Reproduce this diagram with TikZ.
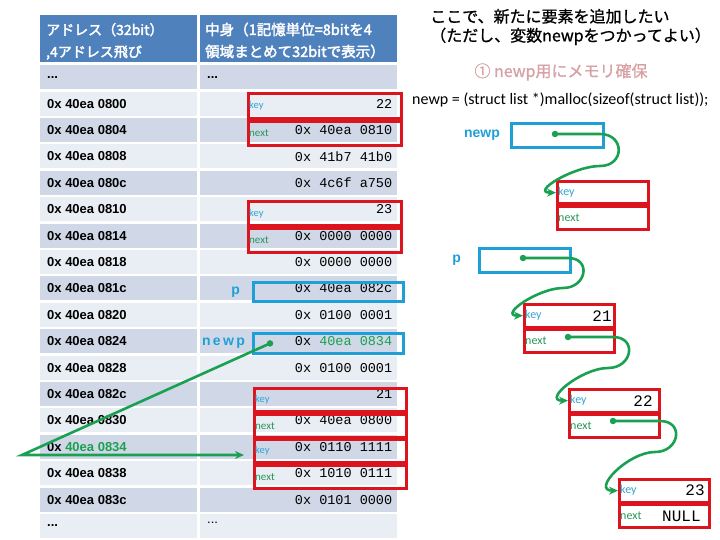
\documentclass[tikz,border=0pt]{standalone}
\usepackage{fontspec}
\usepackage{xcolor}
\usepackage{tikz}
\usetikzlibrary{arrows.meta,positioning,calc}
\newfontfamily\jpfont{Noto Sans CJK JP}
\newfontfamily\jpbold{Noto Sans CJK JP}[FakeBold=2.5]
\newfontfamily\jpmed{Noto Sans CJK JP}[FakeBold=1]
\newfontfamily\addrfont{Liberation Sans}
\newfontfamily\valfont{Liberation Mono}
\newfontfamily\codefont{Carlito}
\definecolor{hdblue}{RGB}{79,129,189}
\definecolor{rowdark}{RGB}{208,216,232}
\definecolor{rowlight}{RGB}{233,237,244}
\definecolor{boxred}{RGB}{220,20,30}
\definecolor{boxblue}{RGB}{30,160,215}
\definecolor{linkgreen}{RGB}{25,160,80}
\definecolor{keycyan}{RGB}{50,165,210}
\definecolor{nextgreen}{RGB}{40,150,90}
\definecolor{steppink}{RGB}{215,160,165}
\tikzset{
  cell/.style={rectangle, fill=#1, minimum height=24pt, inner sep=0pt, anchor=north west},
  hdtext/.style={anchor=base west, inner sep=0pt, text=white, font=\jpbold\fontsize{#1}{#1}\selectfont},
  addr/.style={inner sep=0pt, font=\addrfont\bfseries\fontsize{13}{15}\selectfont},
  val/.style={inner sep=0pt, font=\valfont\fontsize{13.5}{15}\selectfont},
  bigval/.style={inner sep=0pt, font=\valfont\fontsize{16}{18}\selectfont},
  field/.style={rectangle, draw=boxred, line width=2.8pt, inner sep=0pt, anchor=north west},
  ptr/.style={rectangle, draw=boxblue, line width=2.8pt, inner sep=0pt, anchor=north west},
  keylbl/.style={inner sep=2pt, text=keycyan, font=\codefont\fontsize{#1}{#1}\selectfont},
  nextlbl/.style={inner sep=2pt, text=nextgreen, font=\codefont\fontsize{#1}{#1}\selectfont},
  varlbl/.style={inner sep=0pt, text=boxblue, font=\addrfont\bfseries\fontsize{14}{16}\selectfont},
  dot/.style={circle, fill=linkgreen, inner sep=0pt, minimum size=6.5pt},
  link/.style={draw=linkgreen, line width=2.6pt, -{Stealth[length=9pt,width=8pt]}}
}
\begin{document}
\begin{tikzpicture}[x=1pt,y=-1pt]
\useasboundingbox (0,0) rectangle (720,540);
% header
\node[cell=hdblue, minimum width=157pt, minimum height=47pt] (h1) at (40,15) {};
\node[cell=hdblue, minimum width=197pt, minimum height=47pt] (h2) at (200,15) {};
\node[hdtext=14] (h1a) at (46,35) {アドレス（32bit）};
\node[hdtext=14] (h1b) at (46,57) {,4アドレス飛び};
\node[hdtext=14.5] (h2a) at (205,35) {中身（1記憶単位=8bitを4};
\node[hdtext=14.5] (h2b) at (205,57) {領域まとめて32bitで表示）};
% memory rows
\node[cell=rowdark, minimum width=157pt] (a0) at (40,65) {};
\node[cell=rowdark, minimum width=197pt] (v0) at (200,65) {};
\node[addr, anchor=west] at ([xshift=7pt]a0.west) {...};
\node[addr, anchor=west] at ([xshift=7pt]v0.west) {...};
\foreach \i/\addr/\val in {
  1/0x 40ea 0800/22, 2/0x 40ea 0804/0x 40ea 0810, 3/0x 40ea 0808/0x 41b7 41b0,
  4/0x 40ea 080c/0x 4c6f a750, 5/0x 40ea 0810/23, 6/0x 40ea 0814/0x 0000 0000,
  7/0x 40ea 0818/0x 0000 0000, 8/0x 40ea 081c/0x 40ea 082c, 9/0x 40ea 0820/0x 0100 0001,
  10/0x 40ea 0824/{0x \textcolor{linkgreen}{40ea 0834}}, 11/0x 40ea 0828/0x 0100 0001,
  12/0x 40ea 082c/21, 13/0x 40ea 0830/0x 40ea 0800,
  14/{0x \textcolor{linkgreen}{40ea 0834}}/0x 0110 1111, 15/0x 40ea 0838/0x 1010 0111,
  16/0x 40ea 083c/0x 0101 0000}{
  \pgfmathsetmacro{\ytop}{65+26.4*\i}
  \ifodd\i\relax \def\rowfill{rowlight}\else \def\rowfill{rowdark}\fi
  \node[cell=\rowfill, minimum width=157pt] (a\i) at (40,\ytop) {};
  \node[cell=\rowfill, minimum width=197pt] (v\i) at (200,\ytop) {};
  \node[addr, anchor=west] at ([xshift=7pt]a\i.west) {\addr};
  \node[val, anchor=east] at ([xshift=-5pt]v\i.east) {\val};
}
\node[cell=rowlight, minimum width=157pt] (a17) at (40,513.8) {};
\node[cell=rowlight, minimum width=197pt] (v17) at (200,513.8) {};
\node[addr, anchor=west] at ([xshift=7pt]a17.west) {...};
\node[addr, anchor=west, font=\addrfont\fontsize{13}{15}\selectfont] at ([xshift=7pt,yshift=3pt]v17.west) {...};
% struct fields in memory
\node[field, minimum width=153pt, minimum height=24.5pt] (tk22) at (247,92.5) {};
\node[field, minimum width=153pt, minimum height=24.5pt, anchor=north] (tn22) at (tk22.south) {};
\node[field, minimum width=153pt, minimum height=24pt] (tk23) at (247,200) {};
\node[field, minimum width=153pt, minimum height=24pt, anchor=north] (tn23) at (tk23.south) {};
\node[field, minimum width=152pt, minimum height=23pt] (tk21) at (253,387) {};
\node[field, minimum width=152pt, minimum height=23pt, anchor=north] (tn21) at (tk21.south) {};
\node[field, minimum width=152pt, minimum height=23pt] (tk34) at (253,438) {};
\node[field, minimum width=152pt, minimum height=23pt, anchor=north] (tn34) at (tk34.south) {};
\foreach \f in {22,23,21,34}{
  \node[keylbl=10.5, anchor=west] at (tk\f.west) {key};
  \node[nextlbl=11, anchor=west] at (tn\f.west) {next};
}
% pointer variables in memory
\node[ptr, minimum width=150pt, minimum height=19pt] (tp) at (252,281) {};
\node[ptr, minimum width=150pt, minimum height=20pt] (tnewp) at (252,332) {};
\node[varlbl, left=12pt of tp] {p};
\node[varlbl, left=7pt of tnewp] {n\,e\,w\,p};
\node[dot] (td) at ([xshift=18pt]tnewp.west) {};
\coordinate (turn) at (22,455);
\coordinate (tip) at (244,455);
\draw[link] (td.center) -- (turn) -- (tip);
% right side
\node[anchor=west, align=left, inner sep=0pt, font=\jpmed\fontsize{16}{19}\selectfont] (title) at (430,27)
  {ここで、新たに要素を追加したい\\（ただし、変数newpをつかってよい）};
\node[inner sep=0pt, text=steppink, font=\jpmed\fontsize{16}{18}\selectfont] (step) at (561,72) {① newp用にメモリ確保};
\node[anchor=west, inner sep=0pt, font=\codefont\fontsize{16}{18}\selectfont] (code) at (412,100)
  {newp = (struct list *)malloc(sizeof(struct list));};
\node[ptr, minimum width=92pt, minimum height=24pt] (newpbox) at (510,122) {};
\node[varlbl, left=10pt of newpbox] {newp};
\node[ptr, minimum width=91pt, minimum height=24pt] (pbox) at (478,247) {};
\node[varlbl, left=17pt of pbox] {p};
% list nodes
\node[field, minimum width=91pt, minimum height=22.5pt] (nk) at (556,180) {};
\node[field, minimum width=91pt, minimum height=22.5pt, anchor=north] (nn) at (nk.south) {};
\node[field, minimum width=90pt, minimum height=22.5pt] (dk21) at (523,303) {};
\node[field, minimum width=90pt, minimum height=22.5pt, anchor=north] (dn21) at (dk21.south) {};
\node[field, minimum width=90pt, minimum height=22.5pt] (dk22) at (568,388) {};
\node[field, minimum width=90pt, minimum height=22.5pt, anchor=north] (dn22) at (dk22.south) {};
\node[field, minimum width=90pt, minimum height=22.5pt] (dk23) at (618,478) {};
\node[field, minimum width=90pt, minimum height=22.5pt, anchor=north] (dn23) at (dk23.south) {};
\foreach \f/\k in {nk/nn, dk21/dn21, dk22/dn22, dk23/dn23}{
  \node[keylbl=12, anchor=west] at (\f.west) {key};
  \node[nextlbl=12, anchor=west] at (\k.west) {next};
}
\node[bigval, anchor=east] at ([xshift=-4pt]dk21.east) {21};
\node[bigval, anchor=east] at ([xshift=-8pt]dk22.east) {22};
\node[bigval, anchor=east] at ([xshift=-6pt]dk23.east) {23};
\node[bigval, anchor=east] at ([xshift=-10pt]dn23.east) {NULL};
% links
\node[dot] (d1) at (555,134) {};
\node[dot] (d2) at (523,258) {};
\node[dot] (d3) at (568,337) {};
\node[dot] (d4) at (613,421) {};
\draw[link] (d1.center) -- ++(45,0) to[out=0,in=0,looseness=2] ++(0,32)
  to[out=180,in=180,looseness=1.3] (nk.west);
\draw[link] (d2.center) -- ++(45,0) to[out=0,in=0,looseness=2] ++(-5,30)
  to[out=180,in=180,looseness=1.3] (dk21.west);
\draw[link] (d3.center) -- ++(45,0) to[out=0,in=0,looseness=2] ++(-5,31)
  to[out=180,in=180,looseness=1.3] (dk22.west);
\draw[link] (d4.center) -- ++(47,0) to[out=0,in=0,looseness=2] ++(-5,31)
  to[out=180,in=180,looseness=1.3] (dk23.west);
\end{tikzpicture}
\end{document}
